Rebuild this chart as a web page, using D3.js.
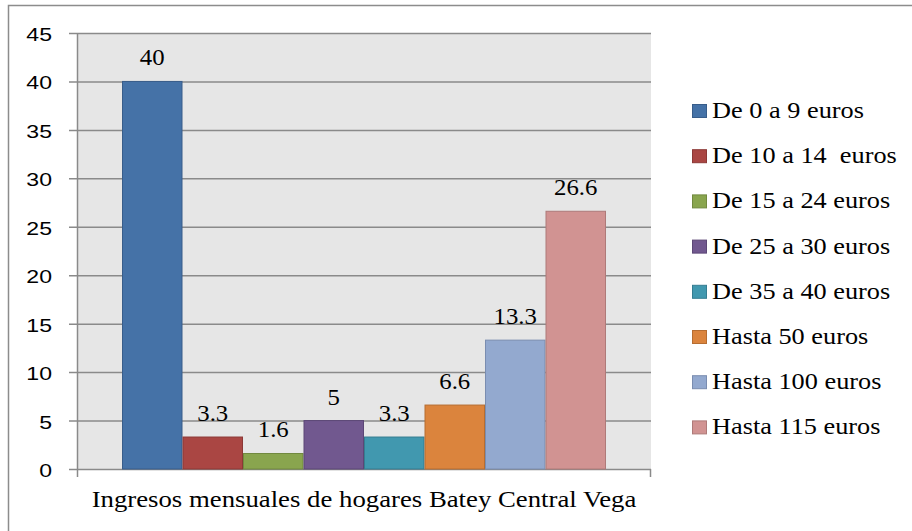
<!DOCTYPE html>
<html>
<head>
<meta charset="utf-8">
<script src="https://cdn.jsdelivr.net/npm/d3@7"></script>
<style>
  body { margin: 0; background: #fff; }
  svg { display: block; }
</style>
</head>
<body>
<svg id="chart" width="912" height="531"></svg>
<script>
const seriesNames = ['De 0 a 9 euros', 'De 10 a 14  euros', 'De 15 a 24 euros', 'De 25 a 30 euros',
  'De 35 a 40 euros', 'Hasta 50 euros', 'Hasta 100 euros', 'Hasta 115 euros'];
const seriesValues = [40, 3.3, 1.6, 5, 3.3, 6.6, 13.3, 26.6];
const seriesColors = ['#4572a7', '#aa4643', '#89a54e', '#71588f', '#4198af', '#db843d', '#93a9cf', '#d19392'];
const seriesStroke = ['#385d8a', '#8c3836', '#71893f', '#5c4776', '#357d91', '#b66d31', '#7a8db0', '#ae7a79'];
const yTicks = [0, 5, 10, 15, 20, 25, 30, 35, 40, 45];
const category = 'Ingresos mensuales de hogares Batey Central Vega';

const SERIF = "'Liberation Serif', 'Times New Roman', 'DejaVu Serif', serif";
const SANS = "'Liberation Sans', Arial, sans-serif";

const svg = d3.select('#chart');
const plot = { left: 77, right: 651, top: 33, bottom: 469 };

// the source picture is stretched sideways; scale text so one
// reference string gets the width it has in the picture
function xScaleFor(node, targetWidth) {
  const w = node.getComputedTextLength();
  return w > 0 ? targetWidth / w : 1;
}

// outer chart border (runs off the right/bottom edge like the original)
svg.append('rect')
  .attr('x', 8.5).attr('y', 5.5)
  .attr('width', 1000).attr('height', 1000)
  .attr('fill', 'none').attr('stroke', '#8c8c8c').attr('stroke-width', 1.5);

svg.append('rect')
  .attr('x', plot.left).attr('y', plot.top)
  .attr('width', plot.right - plot.left).attr('height', plot.bottom - plot.top)
  .attr('fill', '#e6e6e6');

const y = d3.scaleLinear().domain([0, 45]).range([plot.bottom, plot.top]);
const x = d3.scaleBand()
  .domain(seriesNames)
  .range([plot.left + 45, plot.right - 45])
  .paddingInner(0);

// gridlines + y ticks
svg.append('g')
  .selectAll('line')
  .data(yTicks)
  .join('line')
  .attr('x1', plot.left - 8).attr('x2', plot.right)
  .attr('y1', d => y(d) + 0.5).attr('y2', d => y(d) + 0.5)
  .attr('stroke', '#8a8a8a').attr('stroke-width', 1.5);

svg.append('g')
  .selectAll('text')
  .data(yTicks)
  .join('text')
  .style('font-family', SANS)
  .style('font-size', '18.6px')
  .attr('transform', d => `translate(52, ${y(d) + 8}) scale(1.24, 1)`)
  .attr('text-anchor', 'end')
  .attr('fill', '#000')
  .text(d => d);

// y axis line and x axis end ticks
svg.append('line')
  .attr('x1', plot.left + 0.5).attr('x2', plot.left + 0.5)
  .attr('y1', plot.top).attr('y2', plot.bottom + 8)
  .attr('stroke', '#8a8a8a').attr('stroke-width', 1.5);
svg.append('line')
  .attr('x1', plot.right - 0.5).attr('x2', plot.right - 0.5)
  .attr('y1', plot.bottom).attr('y2', plot.bottom + 8)
  .attr('stroke', '#8a8a8a').attr('stroke-width', 1.5);

// bars
svg.append('g')
  .selectAll('rect')
  .data(seriesValues)
  .join('rect')
  .attr('x', (d, i) => x(seriesNames[i]) + 0.5)
  .attr('y', d => y(d))
  .attr('width', x.bandwidth() - 1)
  .attr('height', d => y(0) - y(d))
  .attr('fill', (d, i) => seriesColors[i])
  .attr('stroke', (d, i) => seriesStroke[i])
  .attr('stroke-width', 1);

// value labels
const valueLabels = svg.append('g')
  .selectAll('text')
  .data(seriesValues)
  .join('text')
  .style('font-family', SERIF)
  .style('font-size', '24px')
  .attr('text-anchor', 'middle')
  .attr('fill', '#000')
  .text(d => d);
const vs = xScaleFor(valueLabels.nodes()[1], 31);
valueLabels.attr('transform', (d, i) =>
  `translate(${x(seriesNames[i]) + x.bandwidth() / 2}, ${y(d) - 16}) scale(${vs}, 1)`);

// category label
const catLabel = svg.append('text')
  .style('font-family', SERIF)
  .style('font-size', '23.5px')
  .attr('text-anchor', 'middle')
  .text(category);
const cs = xScaleFor(catLabel.node(), 545);
catLabel.attr('transform', `translate(${(plot.left + plot.right) / 2}, 507) scale(${cs}, 1)`);

// legend
const legend = svg.append('g')
  .selectAll('g')
  .data(seriesNames)
  .join('g')
  .attr('transform', (d, i) => `translate(692, ${111 + i * 45.2})`);

legend.append('rect')
  .attr('x', 0.5).attr('y', -6.5)
  .attr('width', 14).attr('height', 13)
  .attr('fill', (d, i) => seriesColors[i])
  .attr('stroke', (d, i) => seriesStroke[i]);

const legendText = legend.append('text')
  .style('font-family', SERIF)
  .style('font-size', '23px')
  .style('white-space', 'pre')
  .text(d => d);
const ls = xScaleFor(legendText.nodes()[0], 152);
legendText.attr('transform', `translate(20, 7) scale(${ls}, 1)`);
</script>
</body>
</html>
